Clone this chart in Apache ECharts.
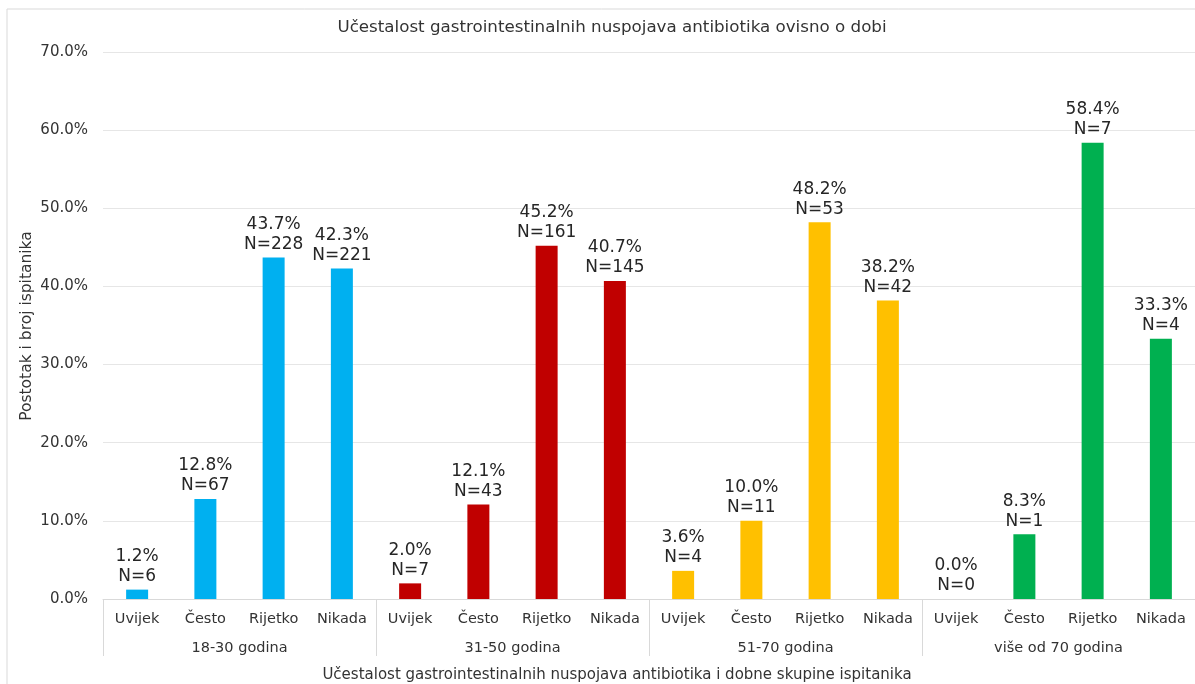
<!DOCTYPE html>
<html>
<head>
<meta charset="utf-8">
<script src="https://cdn.jsdelivr.net/npm/echarts@6/dist/echarts.min.js"></script>
<style>
html,body{margin:0;padding:0;background:#fff;}
#chart{width:1195px;height:684px;}
</style>
</head>
<body>
<div id="chart"></div>
<script>
const categories = ['Uvijek','Često','Rijetko','Nikada','Uvijek','Često','Rijetko','Nikada','Uvijek','Često','Rijetko','Nikada','Uvijek','Često','Rijetko','Nikada'];
const groups = ['18-30 godina','31-50 godina','51-70 godina','više od 70 godina'];
const percentages = [1.2,12.8,43.7,42.3, 2.0,12.1,45.2,40.7, 3.6,10.0,48.2,38.2, 0.0,8.3,58.4,33.3];
const counts = [6,67,228,221, 7,43,161,145, 4,11,53,42, 0,1,7,4];
const groupColors = ['#00B0F0','#C00000','#FFC000','#00B050'];
const yTicks = {min:0, max:70, interval:10};
const titleText = 'Učestalost gastrointestinalnih nuspojava antibiotika ovisno o dobi';
const xAxisTitle = 'Učestalost gastrointestinalnih nuspojava antibiotika i dobne skupine ispitanika';
const yAxisTitle = 'Postotak i broj ispitanika';

const FONT = 'DejaVu Sans, Verdana, sans-serif';
const chart = echarts.init(document.getElementById('chart'), null, {renderer:'canvas'});
const data = percentages.map((v,i)=>({
  value: v,
  itemStyle: {color: groupColors[Math.floor(i/4)]}
}));
chart.setOption({
  animation:false,
  backgroundColor:'#fff',
  graphic:[
    {type:'rect', shape:{x:7,y:9,width:1200,height:700}, style:{fill:'none',stroke:'#d9d9d9',lineWidth:1}, silent:true, z:-10},
    {type:'text', x:612, y:28, style:{text:titleText, font:'16.7px '+FONT, fill:'#333333', align:'center', verticalAlign:'middle'}},
    {type:'text', x:617, y:675, style:{text:xAxisTitle, font:'15px '+FONT, fill:'#333333', align:'center', verticalAlign:'middle'}},
    {type:'text', x:27, y:326, rotation:Math.PI/2, style:{text:yAxisTitle, font:'15.5px '+FONT, fill:'#333333', align:'center', verticalAlign:'middle'}}
  ],
  grid:{left:103, right:0, top:52, bottom:85, containLabel:false},
  xAxis:[
    {type:'category', data:categories, position:'bottom',
     axisLine:{show:true, lineStyle:{color:'#d9d9d9', width:1}},
     axisTick:{show:false},
     axisLabel:{interval:0, margin:13, fontFamily:FONT, fontSize:14.5, color:'#333333'}},
    {type:'category', data:groups, position:'bottom', offset:0,
     axisLine:{show:false},
     axisTick:{show:true, length:57, lineStyle:{color:'#d9d9d9', width:1}},
     axisLabel:{interval:0, margin:42, fontFamily:FONT, fontSize:14.5, color:'#333333'}}
  ],
  yAxis:{type:'value', min:yTicks.min, max:yTicks.max, interval:yTicks.interval,
    axisLine:{show:false}, axisTick:{show:false},
    splitLine:{lineStyle:{color:'#e6e6e6', width:1}},
    axisLabel:{margin:15, fontFamily:FONT, fontSize:15, color:'#333333', formatter:v=>v.toFixed(1)+'%'}},
  series:[{
    type:'bar', xAxisIndex:0, data:data, barWidth:22,
    label:{show:true, position:'top', distance:3, fontFamily:FONT, fontSize:17, lineHeight:20, color:'#262626', align:'center',
      formatter:p=>p.value.toFixed(1)+'%\nN='+counts[p.dataIndex]}
  }]
});
</script>
</body>
</html>
